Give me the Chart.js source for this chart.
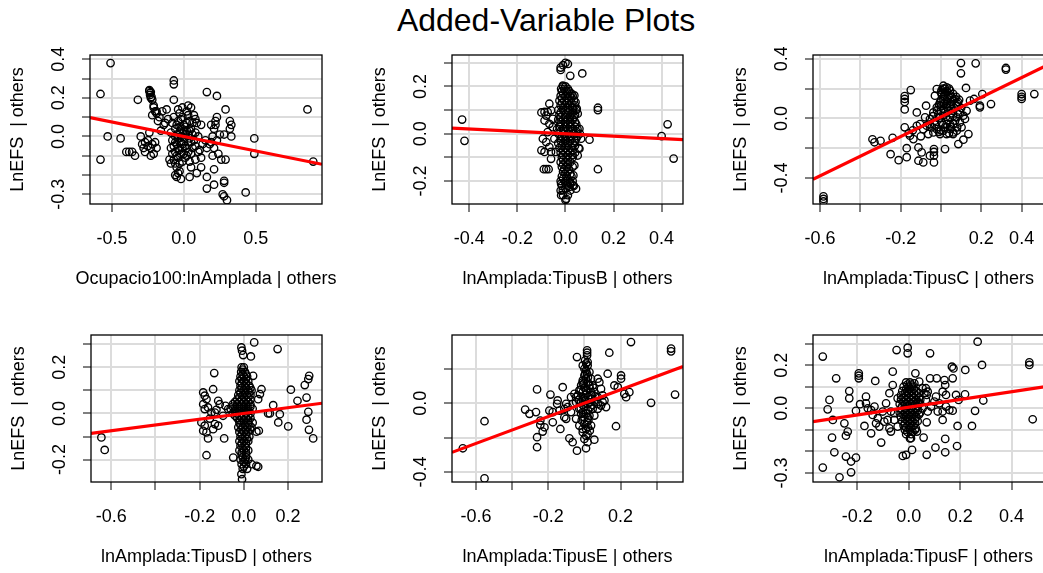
<!DOCTYPE html>
<html>
<head>
<title>Added-Variable Plots</title>
<script src="https://cdn.jsdelivr.net/npm/chart.js@4.4.0/dist/chart.umd.min.js"></script>
<style>
    html, body {
        margin: 0;
        padding: 0;
        background: #fff;
        overflow: hidden;
    }
    body {
        width: 1043px;
        height: 573px;
        position: relative;
        font-family: "Liberation Sans", Arial, sans-serif;
    }
    #mainTitle {
        position: absolute;
        left: 0;
        top: 4px;
        width: 1092px;
        text-align: center;
        font-size: 32px;
        line-height: 32px;
        color: #000;
    }
    .panel {
        position: absolute;
    }
</style>
</head>
<body>
<div id="mainTitle">Added-Variable Plots</div>

<script>
// x / y residual pairs for each added-variable plot
const avOcupacio = [
    [-0.51,0.38],[-0.58,0.22],[-0.58,-0.12],[-0.53,0.00],[-0.44,-0.01],[-0.40,-0.08],[-0.38,-0.08],[-0.36,-0.08],[-0.34,-0.10],[-0.32,0.19],
    [-0.30,0.00],[-0.29,-0.04],[-0.27,-0.03],[-0.25,-0.02],[-0.23,-0.06],[-0.22,-0.04],[-0.20,-0.03],[-0.19,-0.06],[-0.23,-0.10],[-0.27,-0.08],
    [-0.21,-0.09],[-0.25,-0.05],[-0.28,-0.06],[-0.24,0.02],
    [-0.24,0.24],[-0.24,0.235],[-0.235,0.225],[-0.235,0.215],[-0.23,0.20],[-0.22,0.19],[-0.21,0.16],[-0.20,0.13],[-0.19,0.12],[-0.17,0.10],
    [-0.22,0.11],[-0.15,0.13],[-0.12,0.14],[-0.13,0.07],[-0.18,0.08],[-0.14,0.06],[-0.16,0.03],[-0.19,0.13],[-0.21,0.15],[-0.11,0.09],
    [-0.23,0.23],[-0.225,0.205],
    [-0.07,0.29],[-0.07,0.27],[-0.07,0.19],
    [-0.01,0.15],[0.03,0.16],[0.05,0.15],[-0.03,0.12],[0.03,0.11],[0.07,0.11],[0.04,0.08],[0.09,0.07],[0.12,0.06],[-0.04,0.08],
    [-0.08,0.07],[-0.06,0.04],[-0.03,0.05],[0.00,0.06],[0.02,0.03],[0.05,0.04],[0.08,0.02],[-0.09,0.02],[-0.05,0.01],[-0.02,0.00],
    [0.01,0.01],[0.04,-0.01],[0.07,-0.02],[0.10,0.00],[-0.08,-0.02],[-0.05,-0.04],[-0.02,-0.03],[0.01,-0.05],[0.03,-0.03],[0.06,-0.06],
    [-0.09,-0.06],[-0.06,-0.08],[-0.03,-0.07],[0.00,-0.09],[0.03,-0.08],[0.08,-0.05],[0.11,-0.07],[-0.10,-0.12],[-0.07,-0.12],[-0.04,-0.11],
    [-0.01,-0.13],[0.02,-0.10],[0.05,-0.09],[-0.05,-0.16],[-0.03,-0.18],[-0.05,-0.21],[-0.06,-0.20],[-0.02,-0.22],[0.04,-0.21],[0.05,-0.16],
    [0.08,-0.12],[0.12,-0.11],[0.10,-0.08],[0.13,-0.04],[0.15,-0.02],[0.00,0.03],[-0.04,-0.01],[0.06,0.07],[-0.07,0.10],[-0.02,0.09],
    [-0.04,-0.19],[-0.01,0.10],[0.02,0.07],[-0.06,-0.03],[0.04,-0.13],[-0.01,-0.06],[0.06,0.01],
    [-0.06,0.00],[-0.03,0.02],[0.00,-0.01],[0.03,0.01],[-0.07,-0.05],[-0.04,-0.06],[-0.01,-0.04],[0.02,-0.06],[0.05,-0.03],[-0.08,-0.09],
    [-0.05,-0.10],[-0.02,-0.09],[0.01,-0.11],[-0.09,-0.14],[-0.06,-0.14],[-0.03,-0.14],[-0.02,0.04],[0.01,0.05],[0.04,0.03],[-0.05,0.06],
    [0.02,0.13],[-0.04,0.14],[0.08,0.09],
    [0.16,0.23],[0.23,0.21],[0.29,0.14],[0.23,0.10],[0.22,0.06],[0.19,0.06],[0.21,0.04],[0.20,0.00],[0.25,0.01],[0.19,-0.03],
    [0.21,-0.06],[0.24,-0.09],[0.26,-0.12],[0.29,-0.12],[0.20,-0.10],[0.32,0.08],[0.33,0.06],[0.32,0.04],[0.33,0.00],[0.28,0.01],
    [0.18,-0.04],[0.16,-0.06],[0.22,0.08],[0.23,-0.02],
    [0.16,-0.21],[0.16,-0.27],[0.21,-0.17],[0.21,-0.25],[0.28,-0.23],[0.28,-0.24],[0.27,-0.30],[0.28,-0.31],[0.30,-0.33],[0.43,-0.29],
    [0.12,-0.16],[0.09,-0.19],
    [0.49,-0.01],[0.49,-0.09],[0.86,0.14],[0.90,-0.13]
];

const avTipusB = [
    [-0.43,0.06],[-0.42,-0.03],[0.00,0.30],[-0.01,0.29],[-0.02,0.28],[-0.02,0.27],[0.01,0.295],[0.02,0.245],[0.07,0.255],[0.135,0.11],
    [0.135,0.10],[0.425,0.04],[0.40,-0.01],[0.45,-0.105],[0.135,-0.15],[-0.09,-0.15],[-0.08,-0.15],[-0.07,-0.15],[0.10,-0.025],
    [-0.10,0.09],[-0.067,0.127],[-0.08,0.077],[-0.087,0.056],[-0.067,0.042],[-0.094,-0.021],[-0.10,-0.07],[-0.08,-0.035],[-0.067,-0.056],[-0.087,-0.077],
    [-0.06,-0.077],[-0.074,0.007],[-0.053,0.028],[-0.06,0.099],[-0.053,0.063],[-0.074,0.092],[-0.087,0.092],[-0.046,-0.021],[-0.06,-0.106],[-0.04,-0.077],
    [-0.011,0.204],[-0.018,0.19],[-0.01,0.20],[0.0,0.20],
    [-0.015,0.18],[0.005,0.18],[0.015,0.18],
    [-0.02,0.16],[0.0,0.16],[0.02,0.16],[0.03,0.16],
    [-0.025,0.14],[-0.005,0.14],[0.015,0.14],[0.035,0.14],
    [-0.02,0.12],[0.0,0.12],[0.02,0.12],[0.04,0.12],
    [-0.03,0.10],[-0.01,0.10],[0.01,0.10],[0.03,0.10],[0.045,0.10],
    [-0.025,0.08],[0.0,0.08],[0.02,0.08],[0.04,0.08],
    [-0.03,0.06],[-0.01,0.06],[0.01,0.06],[0.03,0.06],
    [-0.02,0.04],[0.0,0.04],[0.02,0.04],[0.045,0.04],
    [-0.035,0.02],[-0.01,0.02],[0.01,0.02],[0.03,0.02],[0.05,0.02],
    [-0.03,0.0],[-0.005,0.0],[0.015,0.0],[0.035,0.0],[0.06,0.0],
    [-0.02,-0.02],[0.0,-0.02],[0.02,-0.02],[0.045,-0.02],
    [-0.03,-0.04],[-0.01,-0.04],[0.01,-0.04],[0.03,-0.04],
    [-0.025,-0.06],[0.0,-0.06],[0.025,-0.06],[0.055,-0.06],
    [-0.02,-0.08],[0.0,-0.08],[0.02,-0.08],[0.04,-0.08],
    [-0.015,-0.10],[0.005,-0.10],[0.03,-0.10],
    [-0.02,-0.12],[0.0,-0.12],[0.02,-0.12],
    [-0.015,-0.14],[0.005,-0.14],[0.03,-0.14],
    [-0.01,-0.16],[0.01,-0.16],
    [-0.015,-0.18],[0.005,-0.18],[0.025,-0.18],
    [-0.02,-0.20],[0.0,-0.20],[0.03,-0.20],
    [-0.015,-0.22],[0.01,-0.22],[0.035,-0.22],
    [-0.02,-0.24],[0.02,-0.24],[-0.01,-0.26],[0.01,-0.26],[0.0,-0.28],
    [-0.005,0.19],[0.01,0.19],[-0.01,0.17],[0.01,0.17],[0.025,0.17],[-0.015,0.15],[0.01,0.15],[0.025,0.15],
    [-0.015,0.13],[0.005,0.13],[0.025,0.13],[-0.01,0.11],[0.01,0.11],[0.03,0.11],[-0.02,0.09],[0.01,0.09],[0.03,0.09],
    [-0.02,0.07],[0.0,0.07],[0.02,0.07],[0.035,0.07],[-0.02,0.05],[0.0,0.05],[0.02,0.05],[0.04,0.05],
    [-0.025,0.03],[0.0,0.03],[0.02,0.03],[0.04,0.03],[-0.02,0.01],[0.0,0.01],[0.025,0.01],[0.045,0.01],
    [-0.015,-0.01],[0.005,-0.01],[0.025,-0.01],[0.05,-0.01],[-0.02,-0.03],[0.0,-0.03],[0.02,-0.03],[0.04,-0.03],
    [-0.015,-0.05],[0.01,-0.05],[0.04,-0.05],[-0.01,-0.07],[0.01,-0.07],[0.03,-0.07],[-0.01,-0.09],[0.01,-0.09],[0.03,-0.09],
    [-0.01,-0.11],[0.01,-0.11],[-0.01,-0.13],[0.01,-0.13],[-0.005,-0.15],[0.015,-0.15],[0.0,-0.17],[0.02,-0.17],
    [-0.01,-0.19],[0.01,-0.19],[0.0,-0.21],[0.02,-0.21],[0.0,-0.23],
    [0.037,0.162],[0.042,0.134],[0.047,0.106],[0.051,0.085],[0.058,0.021],[0.065,-0.021],[0.058,-0.063],[0.051,-0.092],[0.037,-0.134],[0.033,-0.176],
    [0.044,-0.232],[0.031,-0.218],[0.019,-0.204],[-0.018,-0.26],[0.003,-0.275],[-0.011,-0.239],[0.017,-0.225],[-0.018,-0.211]
];

const avTipusC = [
    [-0.583,-0.523],[-0.583,-0.54],[-0.583,-0.557],
    [-0.34,-0.14],[-0.33,-0.16],[-0.30,-0.15],[-0.24,-0.13],[-0.25,-0.24],[-0.21,-0.28],[-0.17,-0.26],[-0.17,-0.20],[-0.18,-0.06],[-0.18,0.15],
    [-0.18,0.13],[-0.18,0.11],[-0.15,0.19],[-0.18,0.06],[-0.16,-0.10],[-0.14,-0.08],[-0.12,-0.05],[-0.10,-0.12],
    [-0.12,0.04],[-0.074,0.085],[-0.112,-0.195],[-0.096,-0.228],[-0.112,-0.284],[-0.088,-0.295],[-0.055,-0.25],[-0.035,-0.206],[-0.035,-0.225],[-0.035,-0.25],
    [-0.035,-0.295],[0.02,-0.206],[0.086,-0.172],[0.111,-0.143],[0.136,-0.105],[0.061,-0.094],[-0.154,-0.116],[-0.137,-0.139],
    [0.099,0.371],[0.099,0.302],[0.172,0.369],[0.322,0.338],[0.322,0.327],[0.124,0.204],[0.205,0.163],[0.193,0.085],[0.193,0.074],[0.248,0.096],
    [0.40,0.163],[0.40,0.13],[0.40,0.145],[0.463,0.163],[0.144,0.119],[0.164,0.13],
    [0.012,0.219],[0.028,0.208],[0.045,0.186],[0.020,0.174],[0.003,0.163],[0.036,0.152],[0.053,0.141],[0.069,0.130],[0.012,0.130],[-0.005,0.107],
    [0.028,0.096],[0.045,0.085],[0.078,0.085],[-0.021,0.074],[0.012,0.063],[0.036,0.051],[0.061,0.051],[0.094,0.040],[-0.038,0.040],[-0.013,0.029],
    [0.012,0.018],[0.045,0.007],[0.078,0.007],[0.111,0.018],[-0.055,-0.004],[-0.030,-0.016],[0.003,-0.027],[0.028,-0.038],[0.061,-0.038],[0.094,-0.027],
    [-0.071,-0.049],[-0.046,-0.060],[-0.021,-0.072],[0.012,-0.083],[0.045,-0.072],[0.078,-0.083],[-0.038,-0.094],[-0.005,-0.105],[0.028,-0.105],[-0.063,-0.105],
    [-0.088,-0.072],[-0.104,-0.038],[-0.079,0.007],[-0.030,0.152],[0.127,0.051],[0.119,-0.004],[0.102,-0.060],[-0.021,0.197],
    [0.02,0.20],[0.003,0.19],[0.03,0.13],[0.0,0.085],[0.05,0.11],[0.085,0.11],[-0.01,0.0],[0.045,-0.04],[0.02,-0.06],[0.06,-0.105],
    [0.0,-0.08],[-0.055,-0.04],
    [0.01,0.2],[0.04,0.2],[0.0,0.175],[0.03,0.18],[0.06,0.165],[0.015,0.15],[0.045,0.155],[0.075,0.145],[0.0,0.12],[0.03,0.115],
    [0.06,0.12],[0.09,0.125],[0.015,0.1],[0.05,0.095],[0.08,0.1],[-0.01,0.09],[0.03,0.075],[0.065,0.07],[0.1,0.07],[0.0,0.05],
    [0.05,0.035],[0.085,0.03],[-0.02,0.055],[0.02,0.04],[0.025,0.01],[0.06,0.015],[-0.005,0.005],[0.035,-0.01],[0.07,-0.015],[-0.04,0.015],
    [0.01,-0.045],[0.05,-0.06],[0.08,-0.06],[-0.03,-0.04],[-0.01,-0.09],[0.04,-0.1]
];

const avTipusD = [
    [-0.645,-0.104],[-0.63,-0.158],[-0.134,0.175],[-0.169,-0.181],[-0.011,0.286],[-0.008,0.272],[-0.003,0.253],[0.047,0.308],[0.032,0.247],[0.153,0.279],
    [0.213,0.103],[0.243,0.055],[0.276,0.123],[0.292,0.149],[0.296,0.163],[0.284,0.069],[0.292,0.007],[0.284,-0.027],[0.295,-0.071],[0.314,-0.108],
    [0.201,-0.056],[0.156,-0.039],[0.163,-0.003],[0.133,0.036],[0.118,0.0],[0.11,0.0],[0.08,0.105],[0.073,0.084],[0.065,0.062],[0.068,-0.075],
    [0.057,-0.079],[0.065,-0.231],[0.035,-0.22],[-0.048,-0.191],[0.042,0.163],[-0.089,-0.108],
    [-0.184,0.091],[-0.177,0.077],[-0.169,0.062],[-0.184,0.040],[-0.162,0.026],[-0.177,0.019],[-0.147,0.004],[-0.192,-0.039],[-0.177,-0.053],[-0.169,-0.082],
    [-0.184,-0.075],[-0.162,-0.108],[-0.139,-0.068],[-0.116,-0.053],[-0.131,0.004],[-0.124,0.016],[-0.139,0.105],[-0.109,0.040],[-0.094,-0.010],[-0.083,0.033],
    [-0.071,0.019],[-0.116,0.055],[-0.154,-0.022],[-0.131,-0.046],
    [-0.01,0.20],[0.0,0.20],[-0.012,0.18],[0.005,0.18],
    [-0.015,0.16],[0.0,0.16],[0.015,0.16],
    [-0.02,0.14],[0.0,0.14],[0.02,0.14],
    [-0.015,0.12],[0.005,0.12],[0.025,0.12],
    [-0.02,0.10],[0.0,0.10],[0.02,0.10],[0.035,0.10],
    [-0.025,0.08],[-0.005,0.08],[0.015,0.08],[0.03,0.08],
    [-0.03,0.06],[-0.01,0.06],[0.01,0.06],[0.03,0.06],
    [-0.05,0.04],[-0.03,0.04],[-0.01,0.04],[0.01,0.04],[0.03,0.04],
    [-0.06,0.02],[-0.04,0.02],[-0.02,0.02],[0.0,0.02],[0.02,0.02],[0.04,0.02],
    [-0.05,0.0],[-0.03,0.0],[-0.01,0.0],[0.01,0.0],[0.03,0.0],
    [-0.03,-0.02],[-0.01,-0.02],[0.01,-0.02],[0.03,-0.02],
    [-0.02,-0.04],[0.0,-0.04],[0.02,-0.04],[0.04,-0.04],
    [-0.025,-0.06],[-0.005,-0.06],[0.015,-0.06],[0.035,-0.06],
    [-0.02,-0.08],[0.0,-0.08],[0.02,-0.08],
    [-0.015,-0.10],[0.005,-0.10],[0.025,-0.10],
    [-0.02,-0.12],[0.0,-0.12],[0.02,-0.12],
    [-0.015,-0.14],[0.005,-0.14],
    [-0.02,-0.16],[0.0,-0.16],[0.02,-0.16],
    [-0.01,-0.18],[0.01,-0.18],
    [-0.015,-0.20],[0.005,-0.20],[0.02,-0.20],
    [-0.01,-0.22],[0.01,-0.22],[-0.005,-0.24],[0.015,-0.24],[-0.011,-0.263],[-0.008,-0.285],[0.057,-0.227],
    [-0.005,0.19],[-0.005,0.17],[0.01,0.17],[-0.01,0.15],[0.01,0.15],[-0.01,0.13],[0.01,0.13],[-0.01,0.11],[0.01,0.11],[0.03,0.11],
    [-0.015,0.09],[0.005,0.09],[0.025,0.09],[-0.02,0.07],[0.0,0.07],[0.02,0.07],[-0.04,0.05],[-0.02,0.05],[0.0,0.05],[0.02,0.05],
    [-0.05,0.03],[-0.03,0.03],[-0.01,0.03],[0.01,0.03],[0.03,0.03],[-0.04,0.01],[-0.02,0.01],[0.0,0.01],[0.02,0.01],
    [-0.04,-0.01],[-0.02,-0.01],[0.0,-0.01],[0.02,-0.01],[-0.02,-0.03],[0.0,-0.03],[0.02,-0.03],
    [-0.015,-0.05],[0.005,-0.05],[0.025,-0.05],[-0.01,-0.07],[0.01,-0.07],[0.03,-0.07],[-0.01,-0.09],[0.01,-0.09],
    [-0.005,-0.11],[0.015,-0.11],[-0.01,-0.13],[0.01,-0.13],[-0.005,-0.15],[0.01,-0.15],[-0.01,-0.17],[0.01,-0.17],
    [-0.005,-0.19],[0.01,-0.19],[0.0,-0.21],[0.0,-0.23]
];

const avTipusE = [
    [-0.673,-0.262],[-0.553,-0.105],[-0.553,-0.437],[-0.262,0.08],[-0.328,-0.037],[-0.304,-0.062],[-0.268,-0.052],[-0.244,-0.101],[-0.262,-0.198],[-0.262,-0.256],
    [-0.231,-0.165],[-0.188,0.05],[-0.175,-0.052],[-0.148,0.016],[-0.151,-0.004],[-0.12,0.093],[-0.138,-0.043],[-0.133,-0.15],[-0.111,-0.082],[-0.083,-0.204],
    [-0.065,-0.227],[-0.041,-0.276],[-0.041,0.268],[0.015,0.307],[0.015,0.293],[0.015,0.278],[0.138,0.293],[0.258,0.355],[0.48,0.317],[0.48,0.301],
    [0.502,0.05],[0.369,0.002],[0.175,-0.134],[0.129,0.171],[0.203,0.161],[0.203,0.142],[0.166,0.103],[0.185,0.093],[0.221,0.054],[0.231,0.035],
    [0.249,0.064],[0.009,-0.262],[0.055,-0.212],
    [-0.194,-0.043],[-0.175,-0.111],[-0.221,-0.14],[-0.244,-0.126],[-0.101,-0.091],[-0.111,-0.033],[-0.101,-0.004],[-0.074,0.035],[-0.055,0.054],[-0.046,0.006],
    [-0.037,0.045],[-0.028,0.074],[-0.018,0.103],[-0.009,0.132],[0.0,0.161],[0.009,0.19],[0.018,0.219],[0.004,0.249],[0.018,0.239],[-0.009,0.219],
    [0.028,0.181],[0.037,0.142],[0.046,0.103],[0.055,0.064],[0.037,0.025],[0.018,-0.004],[0.0,-0.023],[-0.018,0.006],[-0.046,0.035],[-0.065,-0.004],
    [-0.092,-0.023],[-0.074,-0.052],[-0.046,-0.091],[-0.028,-0.13],[-0.009,-0.169],[0.018,-0.179],[0.037,-0.13],[0.055,-0.072],[0.046,-0.033],[0.074,-0.004],
    [0.101,0.006],[0.12,-0.023],[0.074,0.035],[0.028,-0.072],[0.0,-0.082],[-0.009,-0.052],[0.009,0.074],[-0.009,0.035],[0.028,0.103],[0.009,0.142],
    [0.074,0.142],[0.083,0.122],[0.092,0.083],[0.101,0.045],[0.111,0.016],[0.092,-0.014],[0.074,-0.033],
    [0.009,-0.15],[0.0,-0.208],[0.018,-0.227],[-0.015,-0.1],[0.022,-0.1],[-0.004,0.113],[0.022,0.035],[-0.028,-0.033],[0.004,0.016],[0.033,-0.023],
    [0.055,0.016],[0.015,0.171],[-0.009,0.064],[0.037,0.064],[-0.018,-0.062],[0.015,-0.111],
    [0.0,0.2],[0.01,0.23],[0.005,0.17],[0.02,0.15],[-0.01,0.12],[0.02,0.12],[0.0,0.09],[0.03,0.085],[-0.02,0.08],[0.01,0.05],
    [0.04,0.045],[-0.03,0.02],[0.0,0.03],[0.03,0.005],[-0.01,-0.01],[0.02,-0.04],[-0.02,-0.03],[0.01,-0.06],[-0.01,-0.08],[0.02,-0.085],
    [0.0,-0.12],[0.02,-0.14],[-0.01,-0.15],[0.01,-0.19],[0.03,-0.16],[0.05,0.09],[0.06,0.04],[0.045,-0.01]
];

const avTipusF = [
    [-0.334,0.24],[-0.282,0.139],[-0.308,0.039],[-0.315,-0.005],[-0.295,-0.054],[-0.25,-0.07],[-0.237,-0.108],[-0.244,-0.127],[-0.298,-0.136],[-0.289,-0.204],
    [-0.244,-0.224],[-0.224,-0.247],[-0.205,-0.229],[-0.224,-0.297],[-0.269,-0.32],[-0.334,-0.275],[-0.231,0.08],[-0.231,0.046],[-0.194,0.162],[-0.194,0.151],
    [-0.194,0.139],[-0.189,0.019],[-0.166,0.054],[-0.159,0.0],[-0.205,-0.012],[-0.172,-0.082],[-0.146,-0.116],[-0.13,0.127],[-0.127,-0.07],[-0.107,-0.159],
    [-0.12,-0.046],[-0.114,-0.085],[-0.095,-0.062],[-0.088,0.023],[-0.075,0.07],[-0.062,0.17],[-0.069,-0.015],[-0.056,-0.054],[-0.043,-0.085],[-0.047,0.27],
    [-0.004,0.281],[-0.004,0.255],[0.026,0.162],[0.083,0.255],[0.083,0.139],[0.268,0.309],[0.285,0.201],[0.22,0.178],[0.168,0.193],[0.174,0.185],
    [0.171,0.139],[0.139,0.131],[0.142,0.108],[0.132,0.077],[0.145,0.062],[0.109,0.139],[0.067,0.093],[0.074,0.077],[0.07,0.062],[0.067,0.039],
    [0.184,0.062],[0.194,0.039],[0.219,0.065],[0.29,0.036],[0.258,-0.012],[0.19,-0.082],[0.246,-0.082],[0.188,-0.175],[0.142,-0.142],[0.142,-0.204],
    [0.104,-0.182],[0.07,-0.216],[0.058,-0.136],[0.07,-0.065],[0.028,-0.093],[0.032,-0.108],[0.009,-0.139],[0.013,-0.193],[-0.01,-0.216],[-0.023,-0.221],
    [0.482,-0.051],[0.469,0.213],[0.469,0.201],
    [0.106,0.054],[0.119,0.023],[0.113,-0.015],[0.132,-0.015],[0.145,0.008],[0.158,-0.008],[0.171,-0.011],[0.132,-0.054],[0.041,0.023],[0.054,0.0],
    [0.074,-0.015],[0.087,0.008],[0.1,0.031],[-0.166,0.023],[-0.146,-0.008],[-0.133,0.008],[-0.14,-0.031],[-0.101,-0.015],[-0.082,-0.054],[-0.075,-0.093],
    [-0.069,-0.108],[-0.056,-0.023],[-0.043,0.046],[-0.062,0.108],
    [-0.01,0.12],[0.005,0.12],[-0.02,0.10],[0.0,0.10],[0.015,0.10],
    [-0.025,0.08],[-0.005,0.08],[0.01,0.08],[0.03,0.08],
    [-0.03,0.06],[-0.01,0.06],[0.01,0.06],[0.03,0.06],
    [-0.03,0.04],[-0.01,0.04],[0.01,0.04],[0.03,0.04],[0.045,0.04],
    [-0.035,0.02],[-0.015,0.02],[0.005,0.02],[0.025,0.02],[0.04,0.02],
    [-0.03,0.0],[-0.01,0.0],[0.01,0.0],[0.03,0.0],
    [-0.035,-0.02],[-0.015,-0.02],[0.005,-0.02],[0.025,-0.02],[0.045,-0.02],
    [-0.03,-0.04],[-0.01,-0.04],[0.01,-0.04],[0.03,-0.04],
    [-0.025,-0.06],[-0.005,-0.06],[0.015,-0.06],[0.035,-0.06],
    [-0.02,-0.08],[0.0,-0.08],[0.02,-0.08],
    [-0.015,-0.10],[0.005,-0.10],[0.025,-0.10],
    [-0.01,-0.12],[0.01,-0.12],[0.005,-0.14],
    [-0.005,0.11],[0.01,0.11],[-0.01,0.09],[0.005,0.09],[0.02,0.09],[-0.015,0.07],[0.0,0.07],[0.02,0.07],[0.04,0.07],
    [-0.02,0.05],[0.0,0.05],[0.02,0.05],[0.04,0.05],[-0.02,0.03],[0.0,0.03],[0.02,0.03],[0.035,0.03],
    [-0.025,0.01],[-0.005,0.01],[0.015,0.01],[0.035,0.01],[-0.025,-0.01],[-0.005,-0.01],[0.015,-0.01],[0.035,-0.01],
    [-0.02,-0.03],[0.0,-0.03],[0.02,-0.03],[0.04,-0.03],[-0.015,-0.05],[0.005,-0.05],[0.025,-0.05],
    [-0.015,-0.07],[0.005,-0.07],[0.025,-0.07],[-0.01,-0.09],[0.01,-0.09],[-0.005,-0.11],[0.015,-0.11],
    [0.041,0.124],[0.054,0.093],[0.061,0.07],[0.022,0.116]
];

// fitted slopes and intercepts of the red least-squares lines
const slopes = [-0.15, -0.05, 0.66, 0.125, 0.39, 0.18];
const intercepts = [0, 0, 0.01, 0, 0, 0.005];

const xTitles = [
    'Ocupacio100:lnAmplada | others',
    'lnAmplada:TipusB | others',
    'lnAmplada:TipusC | others',
    'lnAmplada:TipusD | others',
    'lnAmplada:TipusE | others',
    'lnAmplada:TipusF | others'
];
const yTitle = 'LnEFS  | others';

// tick positions and the labels R kept (blank = label dropped for overlap)
const xTicks1 = [-0.5, 0, 0.5];
const xLabels1 = ['-0.5', '0.0', '0.5'];
const xTicks2 = [-0.4, -0.2, 0, 0.2, 0.4];
const xLabels2 = ['-0.4', '-0.2', '0.0', '0.2', '0.4'];
const xTicks3 = [-0.6, -0.4, -0.2, 0, 0.2, 0.4];
const xLabels3 = ['-0.6', '', '-0.2', '', '0.2', '0.4'];
const xTicks4 = [-0.6, -0.4, -0.2, 0, 0.2];
const xLabels4 = ['-0.6', '', '-0.2', '0.0', '0.2'];
const xTicks5 = [-0.6, -0.4, -0.2, 0, 0.2, 0.4];
const xLabels5 = ['-0.6', '', '-0.2', '', '0.2', ''];
const xTicks6 = [-0.2, 0, 0.2, 0.4];
const xLabels6 = ['-0.2', '0.0', '0.2', '0.4'];

const yTicks1 = [-0.3, -0.2, -0.1, 0, 0.1, 0.2, 0.3, 0.4];
const yLabels1 = ['-0.3', '', '', '0.0', '', '0.2', '', '0.4'];
const yTicks2 = [-0.2, -0.1, 0, 0.1, 0.2, 0.3];
const yLabels2 = ['-0.2', '', '0.0', '', '0.2', ''];
const yTicks3 = [-0.4, -0.2, 0, 0.2, 0.4];
const yLabels3 = ['-0.4', '', '0.0', '', '0.4'];
const yTicks4 = [-0.2, -0.1, 0, 0.1, 0.2, 0.3];
const yLabels4 = ['-0.2', '', '0.0', '', '0.2', ''];
const yTicks5 = [-0.4, -0.2, 0, 0.2];
const yLabels5 = ['-0.4', '', '0.0', ''];
const yTicks6 = [-0.3, -0.2, -0.1, 0, 0.1, 0.2, 0.3];
const yLabels6 = ['-0.3', '', '', '0.0', '', '0.2', ''];

const FONT = '"Liberation Sans", Arial, sans-serif';
const TEXT_PX = 18;
const LEFT_W = 95;   // room for y tick labels and y title
const BOTTOM_H = 95; // room for x tick labels and x title
const TOP_PAD = 8;
const RIGHT_PAD = 22;

// plot boxes (left, top, right, bottom in page pixels) and axis limits
const panels = [
    { pts: avOcupacio, box: [90, 55, 322, 204], xr: [-0.653, 0.961], yr: [-0.350, 0.422], xt: xTicks1, xl: xLabels1, yt: yTicks1, yl: yLabels1 },
    { pts: avTipusB,   box: [452, 55, 683, 204], xr: [-0.472, 0.489], yr: [-0.297, 0.333], xt: xTicks2, xl: xLabels2, yt: yTicks2, yl: yLabels2 },
    { pts: avTipusC,   box: [813, 55, 1044, 204], xr: [-0.635, 0.511], yr: [-0.574, 0.425], xt: xTicks3, xl: xLabels3, yt: yTicks3, yl: yLabels3 },
    { pts: avTipusD,   box: [91, 335, 322, 482], xr: [-0.692, 0.354], yr: [-0.297, 0.340], xt: xTicks4, xl: xLabels4, yt: yTicks4, yl: yLabels4 },
    { pts: avTipusE,   box: [452, 335, 683, 482], xr: [-0.733, 0.546], yr: [-0.458, 0.396], xt: xTicks5, xl: xLabels5, yt: yTicks5, yl: yLabels5 },
    { pts: avTipusF,   box: [813, 335, 1044, 482], xr: [-0.372, 0.526], yr: [-0.342, 0.340], xt: xTicks6, xl: xLabels6, yt: yTicks6, yl: yLabels6 }
];

// box around the plot region, the rotated y tick labels and the x title
// (drawn here so a long title is not squeezed into the axis width)
const framePlugin = {
    id: 'frame',
    afterDraw(chart, args, opts) {
        const { ctx, chartArea: a, scales } = chart;
        ctx.save();
        ctx.strokeStyle = '#000';
        ctx.lineWidth = 1.3;
        ctx.strokeRect(a.left, a.top, a.right - a.left, a.bottom - a.top);

        ctx.fillStyle = '#000';
        ctx.font = TEXT_PX + 'px ' + FONT;
        ctx.textAlign = 'center';
        ctx.textBaseline = 'middle';
        opts.ticks.forEach((v, i) => {
            const txt = opts.labels[i];
            if (!txt) return;
            const py = scales.y.getPixelForValue(v);
            ctx.save();
            ctx.translate(a.left - 31, py);
            ctx.rotate(-Math.PI / 2);
            ctx.fillText(txt, 0, 0);
            ctx.restore();
        });

        ctx.fillText(opts.xTitle, (a.left + a.right) / 2, a.bottom + 75);
        ctx.restore();
    }
};

panels.forEach((p, k) => {
    const [L, T, R, B] = p.box;
    const canvas = document.createElement('canvas');
    canvas.className = 'panel';
    canvas.width = (R - L) + LEFT_W + RIGHT_PAD;
    canvas.height = (B - T) + TOP_PAD + BOTTOM_H;
    canvas.style.left = (L - LEFT_W) + 'px';
    canvas.style.top = (T - TOP_PAD) + 'px';
    document.body.appendChild(canvas);

    const fitLine = [p.xr[0], p.xr[1]].map(x => ({ x: x, y: intercepts[k] + slopes[k] * x }));

    new Chart(canvas, {
        type: 'scatter',
        data: {
            datasets: [
                {
                    type: 'line',
                    data: fitLine,
                    borderColor: '#ff0000',
                    borderWidth: 3.2,
                    pointRadius: 0,
                    fill: false,
                    clip: 0,
                    order: 0
                },
                {
                    data: p.pts.map(([x, y]) => ({ x: x, y: y })),
                    pointStyle: 'circle',
                    pointRadius: 3.7,
                    pointBorderWidth: 1.35,
                    borderColor: '#000',
                    backgroundColor: 'rgba(0,0,0,0)',
                    clip: 0,
                    order: 1
                }
            ]
        },
        options: {
            responsive: false,
            animation: false,
            events: [],
            layout: { padding: { left: 0, top: TOP_PAD, right: RIGHT_PAD, bottom: 0 } },
            plugins: {
                legend: { display: false },
                tooltip: { enabled: false },
                frame: { ticks: p.yt, labels: p.yl, xTitle: xTitles[k] }
            },
            scales: {
                x: {
                    type: 'linear',
                    position: 'bottom',
                    min: p.xr[0],
                    max: p.xr[1],
                    afterBuildTicks: s => { s.ticks = p.xt.map(v => ({ value: v })); },
                    afterFit: s => { s.height = BOTTOM_H; },
                    grid: { color: '#dcdcdc', lineWidth: 2, tickColor: '#000', tickWidth: 1, tickLength: 8 },
                    border: { display: false },
                    ticks: {
                        autoSkip: false,
                        maxRotation: 0,
                        padding: 18,
                        color: '#000',
                        font: { family: FONT, size: TEXT_PX, lineHeight: 1 },
                        callback: (v, i) => p.xl[i]
                    },
                    title: { display: false }
                },
                y: {
                    type: 'linear',
                    position: 'left',
                    min: p.yr[0],
                    max: p.yr[1],
                    afterBuildTicks: s => { s.ticks = p.yt.map(v => ({ value: v })); },
                    afterFit: s => { s.width = LEFT_W; },
                    grid: { color: '#dcdcdc', lineWidth: 2, tickColor: '#000', tickWidth: 1, tickLength: 8 },
                    border: { display: false },
                    ticks: { display: false },
                    title: {
                        display: true,
                        text: yTitle,
                        color: '#000',
                        font: { family: FONT, size: TEXT_PX, lineHeight: 1 },
                        padding: { top: 14, bottom: 0 }
                    }
                }
            }
        },
        plugins: [framePlugin]
    });
});
</script>
</body>
</html>
